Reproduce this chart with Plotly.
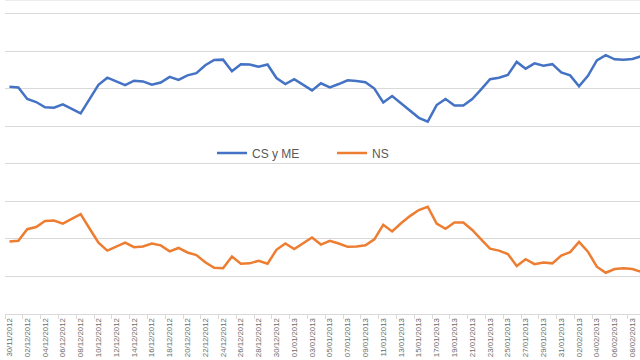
import datetime as dt
import plotly.graph_objects as go

start = dt.date(2012, 11, 30)
dates = [(start + dt.timedelta(days=i)).strftime("%d/%m/%Y") for i in range(72)]

cs_y_me = [60.6, 60.4, 57.3, 56.5, 55.1, 55.0, 55.9, 54.7, 53.5, 57.3,
           61.1, 63.0, 62.0, 61.0, 62.2, 62.0, 61.1, 61.7, 63.2, 62.4,
           63.6, 64.2, 66.3, 67.7, 67.8, 64.7, 66.6, 66.5, 65.9, 66.5,
           62.9, 61.3, 62.6, 61.1, 59.6, 61.5, 60.4, 61.3, 62.3, 62.1,
           61.8, 60.1, 56.4, 58.1, 56.1, 54.1, 52.3, 51.3, 55.7, 57.3,
           55.6, 55.6, 57.3, 59.9, 62.6, 63.0, 63.7, 67.2, 65.4, 66.8,
           66.2, 66.6, 64.4, 63.6, 60.7, 63.5, 67.6, 69.0, 67.9, 67.8,
           68.0, 68.7]

ns = [19.3, 19.5, 22.6, 23.2, 24.8, 24.9, 24.1, 25.4, 26.6, 22.8,
      19.0, 16.9, 18.0, 19.0, 17.8, 18.0, 18.8, 18.3, 16.7, 17.6,
      16.4, 15.7, 13.8, 12.3, 12.2, 15.3, 13.4, 13.5, 14.2, 13.4,
      17.1, 18.8, 17.3, 18.9, 20.4, 18.5, 19.5, 18.8, 17.9, 18.0,
      18.3, 19.9, 23.8, 22.0, 24.2, 26.1, 27.7, 28.6, 24.1, 22.7,
      24.4, 24.4, 22.4, 19.9, 17.4, 16.9, 16.0, 12.8, 14.6, 13.3,
      13.7, 13.5, 15.6, 16.5, 19.2, 16.6, 12.6, 11.0, 12.0, 12.2,
      12.0, 11.2]

idx = list(range(len(dates)))
tick_idx = idx[::2]
tick_text = [dates[i] for i in tick_idx]

fig = go.Figure()
fig.add_trace(go.Scatter(x=idx, y=cs_y_me, mode="lines", name="CS y ME",
                         line=dict(color="#4472C4", width=2.5)))
fig.add_trace(go.Scatter(x=idx, y=ns, mode="lines", name="NS",
                         line=dict(color="#ED7D31", width=2.5)))

fig.update_layout(
    width=640, height=360,
    margin=dict(l=5, r=0, t=0, b=46, autoexpand=False),
    paper_bgcolor="white", plot_bgcolor="white",
    font=dict(family="Liberation Sans", color="#595959"),
    showlegend=True,
    legend=dict(orientation="h", x=0.326, xanchor="left", y=0.513, yanchor="middle",
                bgcolor="rgba(0,0,0,0)", font=dict(size=12, color="#595959"),
                entrywidth=75),
    xaxis=dict(range=[-0.5, 70.85], tickmode="array", tickvals=tick_idx, ticktext=tick_text,
               tickangle=-90, tickfont=dict(size=7.8, color="#6b6b6b"),
               showgrid=False, zeroline=False, showline=True, linecolor="#d9d9d9",
               ticks="", automargin=False,
               minor=dict(tickmode="linear", tick0=-0.5, dtick=2, ticks="outside",
                          ticklen=4, tickcolor="#d9d9d9", showgrid=False)),
    yaxis=dict(range=[0, 83.7], dtick=10, tick0=0, showticklabels=False, automargin=False,
               showgrid=True, gridcolor="#d9d9d9", gridwidth=1, zeroline=False),
    shapes=[dict(type="line", xref="paper", yref="paper", x0=0, x1=1, y0=1, y1=1,
                 line=dict(color="#d9d9d9", width=1))],
)

fig.write_html("out.html", config={"displayModeBar": False},
               post_script="document.body.style.margin='0';")
